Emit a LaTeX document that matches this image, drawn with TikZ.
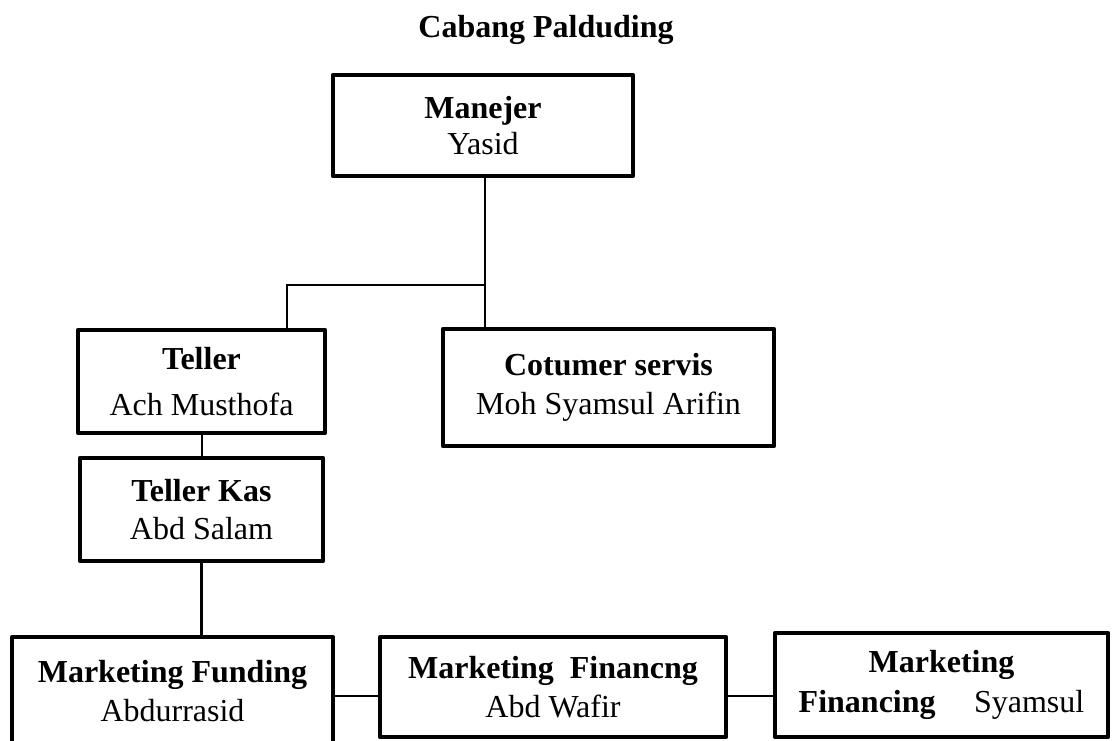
\documentclass[tikz,border=0pt]{standalone}
\usepackage{fontspec}
\setmainfont{Liberation Serif}

\begin{document}
\begin{tikzpicture}[x=0.75pt,y=-0.75pt,
  kotak/.style={draw,line width=3.2pt,line join=round,align=center,inner sep=0pt,font=\fontsize{24}{29}\selectfont},
  garis/.style={line width=1.5pt}]
\useasboundingbox (0,0) rectangle (1112,740);
\clip (0,0) rectangle (1112,740);

%Заголовок
\node (judul) at (546,37) [anchor=base,font=\bfseries\fontsize{24}{29}\selectfont] {Cabang Palduding};

%Блоки
\node (man) at (483,125.5) [kotak,minimum width=225pt,minimum height=75.75pt] {\textbf{Manejer}\\[-2pt]Yasid};
\node (tl) at (201.5,381.5) [kotak,minimum width=185.25pt,minimum height=77.25pt] {\textbf{Teller}\\[5pt]Ach Musthofa};
\node (cs) at (608.5,387.5) [kotak,minimum width=248.25pt,minimum height=87.75pt] {\textbf{Cotumer servis}\\Moh Syamsul Arifin};
\node (tk) at (201.5,509.5) [kotak,minimum width=182.25pt,minimum height=77.25pt] {\textbf{Teller Kas}\\Abd Salam};
\node (mf) at (172.5,691) [kotak,minimum width=240.75pt,minimum height=81pt] {\textbf{Marketing Funding}\\Abdurrasid};
\node (mk) at (553,687) [kotak,minimum width=259.5pt,minimum height=75pt] {\textbf{Marketing\ \ Financng}\\Abd Wafir};
\node (mr) at (941.5,685) [kotak,minimum width=249.75pt,minimum height=78pt] {\textbf{Marketing}\\[1pt]\textbf{Financing}\hspace{1.2em}Syamsul};

%Линии
\coordinate (cabang) at (485,285);
\coordinate (belok) at (287,285);
\coordinate (tengah) at (0,696);
\draw[garis] (man.south -| cabang) -- (cabang |- cs.north);
\draw[garis] (cabang) -- (belok) -- (belok |- tl.north);
\draw[garis] (tl.south) -- (tk.north);
\draw[line width=2.5pt] (tk.south) -- (tk.south |- mf.north);
\draw[garis] (mf.east |- tengah) -- (mk.west |- tengah);
\draw[garis] (mk.east |- tengah) -- (mr.west |- tengah);

\end{tikzpicture}
\end{document}
